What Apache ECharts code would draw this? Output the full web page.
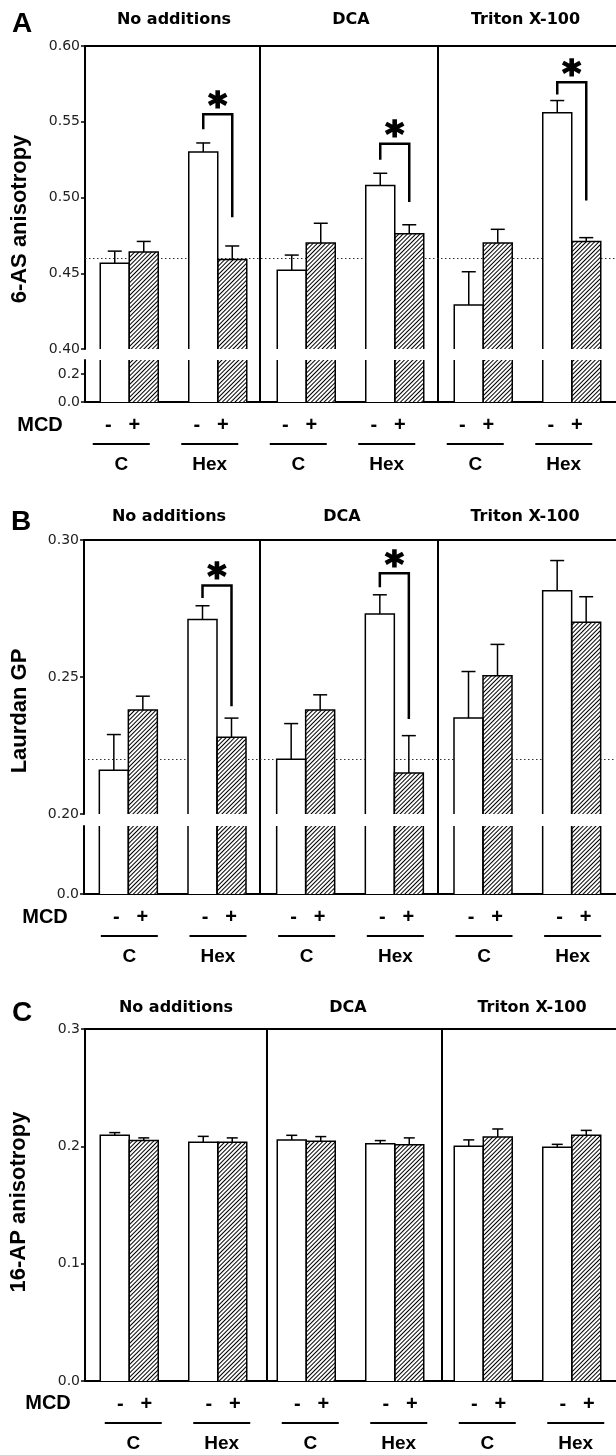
<!DOCTYPE html>
<html>
<head>
<meta charset="utf-8">
<title>MCD: 6-AS anisotropy, Laurdan GP, 16-AP anisotropy</title>
<script src="https://cdn.jsdelivr.net/npm/echarts@6/dist/echarts.min.js"></script>
<style>
  html, body { margin: 0; padding: 0; background: #fff; }
  #chart { width: 616px; height: 1455px; }
</style>
</head>
<body>
<div id="chart"></div>
<script>
// each category holds one MCD - / + pair
const groups = ["C", "Hex", "C", "Hex", "C", "Hex"];
const panelTitles = ["No additions", "DCA", "Triton X-100"];

// A: 6-AS anisotropy (mean, SE)
const asMinus = [0.4566, 0.530, 0.452, 0.508, 0.429, 0.556];
const asMinusSE = [0.008, 0.006, 0.010, 0.008, 0.022, 0.008];
const asPlus = [0.464, 0.459, 0.470, 0.476, 0.470, 0.471];
const asPlusSE = [0.007, 0.009, 0.013, 0.006, 0.009, 0.0025];
// significance brackets: [category, left leg end, bracket top, right leg end]
const asSig = [[1, 0.545, 0.555, 0.487], [3, 0.525, 0.5355, 0.497], [5, 0.568, 0.576, 0.498]];

// B: Laurdan GP
const gpMinus = [0.216, 0.271, 0.220, 0.273, 0.235, 0.2815];
const gpMinusSE = [0.013, 0.005, 0.013, 0.007, 0.017, 0.011];
const gpPlus = [0.238, 0.228, 0.238, 0.215, 0.2505, 0.270];
const gpPlusSE = [0.005, 0.007, 0.0055, 0.0136, 0.0114, 0.0093];
const gpSig = [[1, 0.2788, 0.2834, 0.2393], [3, 0.2828, 0.2879, 0.2347]];

// C: 16-AP anisotropy
const apMinus = [0.2094, 0.2034, 0.2055, 0.2023, 0.2000, 0.1992];
const apMinusSE = [0.0023, 0.0051, 0.0039, 0.0026, 0.0055, 0.0025];
const apPlus = [0.2049, 0.2034, 0.2043, 0.2014, 0.2080, 0.2094];
const apPlusSE = [0.0023, 0.0038, 0.0040, 0.0058, 0.0068, 0.0042];

const INK = "#000";
const BAR_W = 29;
const BOLD = "Liberation Sans";
const HATCH = {
  symbol: "rect", symbolSize: 1,
  dashArrayX: [1, 0], dashArrayY: [1, 2],
  rotation: -Math.PI / 4, color: "#000"
};

const chart = echarts.init(document.getElementById("chart"));

const grid = [], xAxis = [], yAxis = [], series = [], graphic = [];

// full-height grid that only draws the panel dividers
function addFrame(box) {
  const gi = grid.length;
  grid.push(box);
  xAxis.push({
    type: "value", gridIndex: gi, min: 0, max: 3, interval: 1,
    axisLine: { show: false }, axisTick: { show: false }, axisLabel: { show: false },
    splitLine: { show: true, showMinLine: false, showMaxLine: false, lineStyle: { color: INK, width: 2 } }
  });
  yAxis.push({ type: "value", gridIndex: gi, min: 0, max: 1, show: false });
}

function pairLabel(shift) {
  const t = { fontFamily: BOLD, fontWeight: "bold", color: INK, align: "center", verticalAlign: "middle" };
  return {
    show: true, interval: 0, margin: 13,
    padding: shift < 0 ? [0, -2 * shift, 0, 0] : [0, 0, 0, 2 * shift],
    formatter: (name) => "{m|-}{p|+}\n{u| }\n{g|" + name + "}",
    rich: {
      m: Object.assign({ width: 26, fontSize: 20, lineHeight: 20 }, t),
      p: Object.assign({ width: 26, fontSize: 20, lineHeight: 20 }, t),
      u: { width: 57, height: 2, lineHeight: 18, fontSize: 2, backgroundColor: INK, verticalAlign: "middle" },
      g: Object.assign({ fontSize: 19, lineHeight: 24 }, t)
    }
  };
}

function addPlot(box, y, opts) {
  const gi = grid.length;
  grid.push(box);
  const xi = xAxis.length;
  const line = { onZero: false, lineStyle: { color: INK, width: 2 } };
  xAxis.push({
    type: "category", gridIndex: gi, data: groups,
    position: opts.labels ? "bottom" : "top",
    axisLine: line, axisTick: { show: false },
    axisLabel: opts.labels ? pairLabel(opts.shift) : { show: false }
  });
  if (opts.labels && opts.topLine) {
    xAxis.push({
      type: "category", gridIndex: gi, data: groups, position: "top",
      axisLine: line, axisTick: { show: false }, axisLabel: { show: false }
    });
  }
  const yi = yAxis.length;
  yAxis.push({
    type: "value", gridIndex: gi, min: y.min, max: y.max, interval: y.interval,
    axisLine: { show: true, lineStyle: { color: INK, width: 2 } },
    axisTick: { show: true, length: 4, lineStyle: { color: INK, width: 1.5 } },
    axisLabel: {
      formatter: (v) => v.toFixed(y.digits), fontFamily: "DejaVu Sans", fontSize: 14,
      color: "#222", margin: 5, showMaxLabel: y.showMax !== false
    },
    splitLine: { show: false }
  });
  return { xi, yi, cap: opts.cap || 14 };
}

// bar outline (no edge at a break) + upward SE whisker
function edges(ax, means, se, shift) {
  return {
    type: "custom", xAxisIndex: ax.xi, yAxisIndex: ax.yi, z: 3, silent: true,
    data: means.map((v, i) => [i, v, v + se[i]]),
    renderItem: (params, api) => {
      const cs = params.coordSys;
      const p = api.coord([api.value(0), api.value(1)]);
      const e = api.coord([api.value(0), api.value(2)]);
      const x0 = p[0] + shift, x1 = x0 + BAR_W, cx = x0 + BAR_W / 2;
      const yBot = cs.y + cs.height;
      const st = { stroke: INK, lineWidth: 1.5, fill: "none" };
      const kids = [];
      if (p[1] >= cs.y) {
        kids.push({ type: "polyline", shape: { points: [[x0, yBot], [x0, p[1]], [x1, p[1]], [x1, yBot]] }, style: st });
        kids.push({ type: "line", shape: { x1: cx, y1: p[1], x2: cx, y2: e[1] }, style: st });
        kids.push({ type: "line", shape: { x1: cx - ax.cap / 2, y1: e[1], x2: cx + ax.cap / 2, y2: e[1] }, style: st });
      } else {
        kids.push({ type: "line", shape: { x1: x0, y1: yBot, x2: x0, y2: cs.y }, style: st });
        kids.push({ type: "line", shape: { x1: x1, y1: yBot, x2: x1, y2: cs.y }, style: st });
      }
      return { type: "group", children: kids };
    }
  };
}

function addBars(ax, minus, minusSE, plus, plusSE, ref) {
  const common = { type: "bar", xAxisIndex: ax.xi, yAxisIndex: ax.yi, barWidth: BAR_W, barGap: "0%", silent: true };
  const white = Object.assign({}, common, { name: "MCD -", data: minus, itemStyle: { color: "#fff" } });
  if (ref != null) {
    white.markLine = {
      silent: true, symbol: "none", z: 1, label: { show: false },
      lineStyle: { type: [1.5, 2.5], color: "#333", width: 1.2 },
      data: [{ yAxis: ref }]
    };
  }
  series.push(white);
  series.push(Object.assign({}, common, { name: "MCD +", data: plus, itemStyle: { color: "#fff", decal: HATCH } }));
  series.push(edges(ax, minus, minusSE, -BAR_W));
  series.push(edges(ax, plus, plusSE, 0));
}

function addSig(ax, sig) {
  series.push({
    type: "custom", xAxisIndex: ax.xi, yAxisIndex: ax.yi, z: 4, silent: true,
    data: sig,
    renderItem: (params, api) => {
      const c = api.value(0);
      const a = api.coord([c, api.value(1)]);
      const t = api.coord([c, api.value(2)]);
      const b = api.coord([c, api.value(3)]);
      const xl = t[0] - BAR_W / 2, xr = t[0] + BAR_W / 2;
      return {
        type: "group", children: [
          { type: "polyline", shape: { points: [[xl, a[1]], [xl, t[1]], [xr, t[1]], [xr, b[1]]] },
            style: { stroke: INK, lineWidth: 2.5, fill: "none" } },
          { type: "text", x: t[0], y: t[1] - 7,
            style: { text: "*", font: 'bold 36px "DejaVu Sans"', fill: INK, stroke: INK, lineWidth: 1.6,
              align: "center", verticalAlign: "middle", textAlign: "center", textVerticalAlign: "middle" } }
        ]
      };
    }
  });
}

function label(text, x, y, font, rot) {
  graphic.push({
    type: "text", x: x, y: y, rotation: rot || 0, silent: true,
    style: { text: text, font: font, fill: INK, align: "center", verticalAlign: "middle",
      textAlign: "center", textVerticalAlign: "middle" }
  });
}

// ---- panel A ----
addFrame({ left: 82, top: 46, width: 534, height: 356 });
const aUp = addPlot({ left: 85, top: 46, width: 532, height: 303 },
  { min: 0.40, max: 0.60, interval: 0.05, digits: 2 }, { labels: false });
const aLo = addPlot({ left: 85, top: 360, width: 532, height: 42 },
  { min: 0, max: 0.3, interval: 0.2, digits: 1, showMax: false }, { labels: true, shift: -8 });
addBars(aUp, asMinus, asMinusSE, asPlus, asPlusSE, asMinus[0]);
addBars(aLo, asMinus, asMinusSE, asPlus, asPlusSE, null);
addSig(aUp, asSig);

// ---- panel B ----
addFrame({ left: 81, top: 540, width: 537, height: 354 });
const bUp = addPlot({ left: 84, top: 540, width: 533, height: 274 },
  { min: 0.20, max: 0.30, interval: 0.05, digits: 2 }, { labels: false });
const bLo = addPlot({ left: 84, top: 826, width: 533, height: 68 },
  { min: 0, max: 0.1, interval: 0.1, digits: 1, showMax: false }, { labels: true, shift: 1 });
addBars(bUp, gpMinus, gpMinusSE, gpPlus, gpPlusSE, gpMinus[0]);
addBars(bLo, gpMinus, gpMinusSE, gpPlus, gpPlusSE, null);
addSig(bUp, gpSig);

// ---- panel C ----
addFrame({ left: 92, top: 1029, width: 532, height: 352 });
const cMain = addPlot({ left: 85, top: 1029, width: 534, height: 352 },
  { min: 0, max: 0.3, interval: 0.1, digits: 1 }, { labels: true, topLine: true, shift: 4, cap: 11 });
addBars(cMain, apMinus, apMinusSE, apPlus, apPlusSE, null);

// ---- text ----
const LETTER = 'bold 28px "Liberation Sans"';
const TITLE = 'bold 16px "DejaVu Sans"';
const NAME = 'bold 22px "Liberation Sans"';
const MCD = 'bold 20px "Liberation Sans"';
label("A", 22, 24, LETTER);
label("B", 21, 522, LETTER);
label("C", 22, 1013, LETTER);
[[174, 351, 525.5, 20], [169, 342, 525, 517], [176, 348, 532, 1008]].forEach((r) => {
  panelTitles.forEach((t, i) => label(t, r[i], r[3], TITLE));
});
label("6-AS anisotropy", 20, 219, NAME, Math.PI / 2);
label("Laurdan GP", 20, 711, NAME, Math.PI / 2);
label("16-AP anisotropy", 19, 1202, NAME, Math.PI / 2);
label("MCD", 40, 425, MCD);
label("MCD", 45, 917, MCD);
label("MCD", 48, 1403, MCD);

chart.setOption({
  animation: false,
  backgroundColor: "#fff",
  grid: grid,
  xAxis: xAxis,
  yAxis: yAxis,
  series: series,
  graphic: graphic
});
</script>
</body>
</html>
